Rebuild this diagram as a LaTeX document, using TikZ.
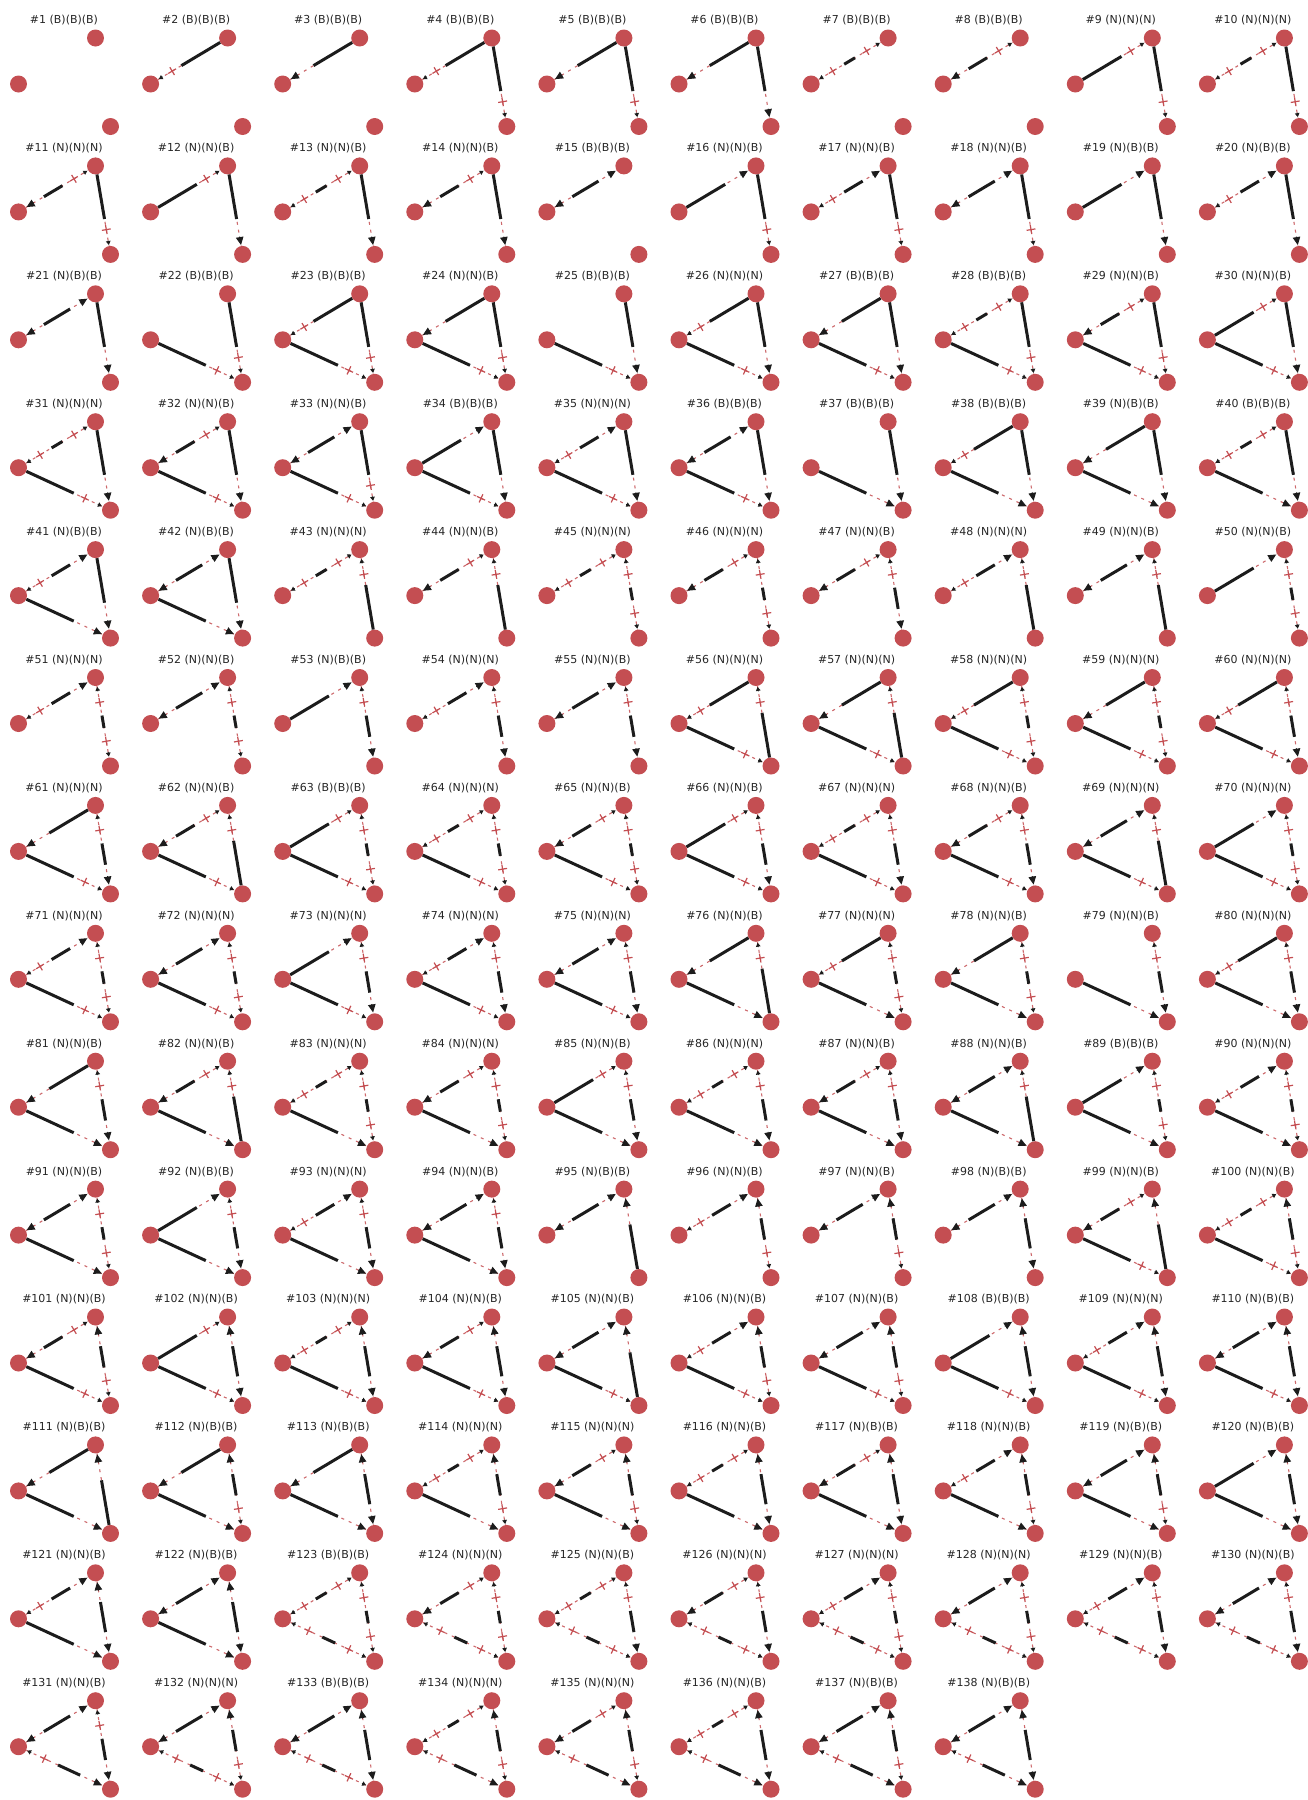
\documentclass[tikz,border=0pt]{standalone}
\usepackage{fontspec}
\setmainfont{DejaVu Sans}
\usepackage{tikz}
\usetikzlibrary{calc,arrows.meta}

\definecolor{nodered}{RGB}{196,78,82}
\definecolor{inkblack}{RGB}{28,28,28}
\definecolor{titlegray}{RGB}{38,38,38}

% (B)(B)(B) style tag from a three letter code
\def\tripletag#1#2#3{(#1)(#2)(#3)}

% one end of a link: a = big head, p = plus mark and small head
\newcommand{\linkend}[3]{%
  \if#1a
    \draw[bigtip] ($(#2.center)!18pt!(#3.center)$) -- ($(#2.center)!9.5pt!(#3.center)$);
  \fi
  \if#1p
    \draw[smalltip] ($(#2.center)!14pt!(#3.center)$) -- ($(#2.center)!9.5pt!(#3.center)$);
    \coordinate (pm) at ($(#2.center)!0.28!(#3.center)$);
    \draw[plusmark] ($(pm)!4.5pt!(#2.center)$) -- ($(pm)!4.5pt!(#3.center)$)
      ($(pm)!4.5pt!90:(#3.center)$) -- ($(pm)!4.5pt!-90:(#3.center)$);
  \fi}

% a link between two nodes, end types t/a/p, n = no link
\newcommand{\drawlink}[4]{%
  \if#1n\else
    \draw[reddash] (#3) -- (#4);
    \if#1t \draw[solidlink] (#3) -- ($(#3.center)!0.6!(#4.center)$); \fi
    \if#2t \draw[solidlink] ($(#3.center)!0.4!(#4.center)$) -- (#4); \fi
    \if#1a \def\dashA{0.33}\else\def\dashA{0.43}\fi
    \if#2a \def\dashB{0.67}\else\def\dashB{0.57}\fi
    \if#1t\else\if#2t\else
      \draw[dashlink] ($(#3.center)!\dashA!(#4.center)$) -- ($(#3.center)!\dashB!(#4.center)$);
    \fi\fi
    \linkend{#1}{#3}{#4}%
    \linkend{#2}{#4}{#3}%
  \fi}

\begin{document}
\begin{tikzpicture}[
  x=1pt, y=-1pt,
  vertex/.style={circle, fill=nodered, draw=none, minimum size=17pt, inner sep=0pt},
  paneltitle/.style={font=\fontsize{11}{13}\selectfont, text=titlegray, inner sep=0pt},
  solidlink/.style={draw=inkblack, line width=3pt},
  dashlink/.style={draw=inkblack, line width=3pt},
  reddash/.style={draw=nodered!85, line width=1.1pt, dash pattern=on 3pt off 5pt},
  plusmark/.style={draw=nodered, line width=1.2pt},
  bigtip/.style={draw=inkblack, line width=1pt, -{Triangle[length=8pt, width=7.5pt]}},
  smalltip/.style={draw=inkblack, line width=1pt, -{Triangle[length=4pt, width=4.5pt]}}
]
\useasboundingbox (0,0) rectangle (1308,1800);

\foreach \n/\lab/\eLT/\eTB/\eLB in {
  1/BBB/nn/nn/nn, 2/BBB/pt/nn/nn, 3/BBB/at/nn/nn, 4/BBB/pt/tp/nn,
  5/BBB/at/tp/nn, 6/BBB/at/ta/nn, 7/BBB/pp/nn/nn, 8/BBB/ap/nn/nn,
  9/NNN/tp/tp/nn, 10/NNN/pp/tp/nn,
  11/NNN/ap/tp/nn, 12/NNB/tp/ta/nn, 13/NNB/pp/ta/nn, 14/NNB/ap/ta/nn,
  15/BBB/aa/nn/nn, 16/NNB/ta/tp/nn, 17/NNB/pa/tp/nn, 18/NNB/aa/tp/nn,
  19/NBB/ta/ta/nn, 20/NBB/pa/ta/nn,
  21/NBB/aa/ta/nn, 22/BBB/nn/tp/tp, 23/BBB/pt/tp/tp, 24/NNB/at/tp/tp,
  25/BBB/nn/ta/tp, 26/NNN/pt/ta/tp, 27/BBB/at/ta/tp, 28/BBB/pp/tp/tp,
  29/NNB/ap/tp/tp, 30/NNB/tp/ta/tp,
  31/NNN/pp/ta/tp, 32/NNB/ap/ta/tp, 33/NNB/aa/tp/tp, 34/BBB/ta/ta/tp,
  35/NNN/pa/ta/tp, 36/BBB/aa/ta/tp, 37/BBB/nn/ta/ta, 38/BBB/pt/ta/ta,
  39/NBB/at/ta/ta, 40/BBB/pp/ta/ta,
  41/NBB/pa/ta/ta, 42/NBB/aa/ta/ta, 43/NNN/pp/pt/nn, 44/NNB/ap/pt/nn,
  45/NNN/pp/pp/nn, 46/NNN/ap/pp/nn, 47/NNB/ap/pa/nn, 48/NNN/pa/pt/nn,
  49/NNB/aa/pt/nn, 50/NNB/ta/pp/nn,
  51/NNN/pa/pp/nn, 52/NNB/aa/pp/nn, 53/NBB/ta/pa/nn, 54/NNN/pa/pa/nn,
  55/NNB/aa/pa/nn, 56/NNN/pt/pt/tp, 57/NNN/at/pt/tp, 58/NNN/pt/pp/tp,
  59/NNN/at/pp/tp, 60/NNN/pt/pa/tp,
  61/NNN/at/pa/tp, 62/NNB/ap/pt/tp, 63/BBB/tp/pp/tp, 64/NNN/pp/pp/tp,
  65/NNB/ap/pp/tp, 66/NNB/tp/pa/tp, 67/NNN/pp/pa/tp, 68/NNB/ap/pa/tp,
  69/NNN/aa/pt/tp, 70/NNN/ta/pp/tp,
  71/NNN/pa/pp/tp, 72/NNN/aa/pp/tp, 73/NNN/ta/pa/tp, 74/NNN/pa/pa/tp,
  75/NNN/aa/pa/tp, 76/NNB/at/pt/ta, 77/NNN/pt/pp/ta, 78/NNB/at/pp/ta,
  79/NNB/nn/pa/ta, 80/NNN/pt/pa/ta,
  81/NNB/at/pa/ta, 82/NNB/ap/pt/ta, 83/NNN/pp/pp/ta, 84/NNN/ap/pp/ta,
  85/NNB/tp/pa/ta, 86/NNN/pp/pa/ta, 87/NNB/ap/pa/ta, 88/NNB/aa/pt/ta,
  89/BBB/ta/pp/ta, 90/NNN/pa/pp/ta,
  91/NNB/aa/pp/ta, 92/NBB/ta/pa/ta, 93/NNN/pa/pa/ta, 94/NNB/aa/pa/ta,
  95/NBB/aa/at/nn, 96/NNB/pa/ap/nn, 97/NNB/aa/ap/nn, 98/NBB/aa/aa/nn,
  99/NNB/ap/at/tp, 100/NNB/pp/ap/tp,
  101/NNB/ap/ap/tp, 102/NNB/tp/aa/tp, 103/NNN/pp/aa/tp, 104/NNB/ap/aa/tp,
  105/NNB/aa/at/tp, 106/NNB/pa/ap/tp, 107/NNB/aa/ap/tp, 108/BBB/ta/aa/tp,
  109/NNN/pa/aa/tp, 110/NBB/aa/aa/tp,
  111/NBB/at/at/ta, 112/NBB/at/ap/ta, 113/NBB/at/aa/ta, 114/NNN/pp/ap/ta,
  115/NNN/ap/ap/ta, 116/NNB/pp/aa/ta, 117/NBB/ap/aa/ta, 118/NNB/pa/ap/ta,
  119/NBB/aa/ap/ta, 120/NBB/ta/aa/ta,
  121/NNB/pa/aa/ta, 122/NBB/aa/aa/ta, 123/BBB/pp/pp/pp, 124/NNN/ap/pp/pp,
  125/NNB/pp/pa/pp, 126/NNN/ap/pa/pp, 127/NNN/pa/pp/pp, 128/NNN/aa/pp/pp,
  129/NNB/pa/pa/pp, 130/NNB/aa/pa/pp,
  131/NNB/aa/pa/pa, 132/NNN/aa/ap/pp, 133/BBB/aa/aa/pp, 134/NNN/pp/ap/pa,
  135/NNN/ap/ap/pa, 136/NNB/pp/aa/pa, 137/NBB/aa/ap/pa, 138/NBB/aa/aa/pa}{
  \pgfmathsetmacro\cx{132.1*mod(\n-1,10)}
  \pgfmathsetmacro\cy{127.9*floor((\n-1)/10)}
  \node[paneltitle] (h\n) at (\cx+64,\cy+20.5) {\#\n\ \expandafter\tripletag\lab};
  \node[vertex] (L\n) at (\cx+18.5,\cy+84) {};
  \node[vertex] (T\n) at (\cx+95.5,\cy+38) {};
  \node[vertex] (B\n) at (\cx+110.5,\cy+126.5) {};
  \expandafter\drawlink\eLT{L\n}{T\n}
  \expandafter\drawlink\eTB{T\n}{B\n}
  \expandafter\drawlink\eLB{L\n}{B\n}
}
\end{tikzpicture}
\end{document}
